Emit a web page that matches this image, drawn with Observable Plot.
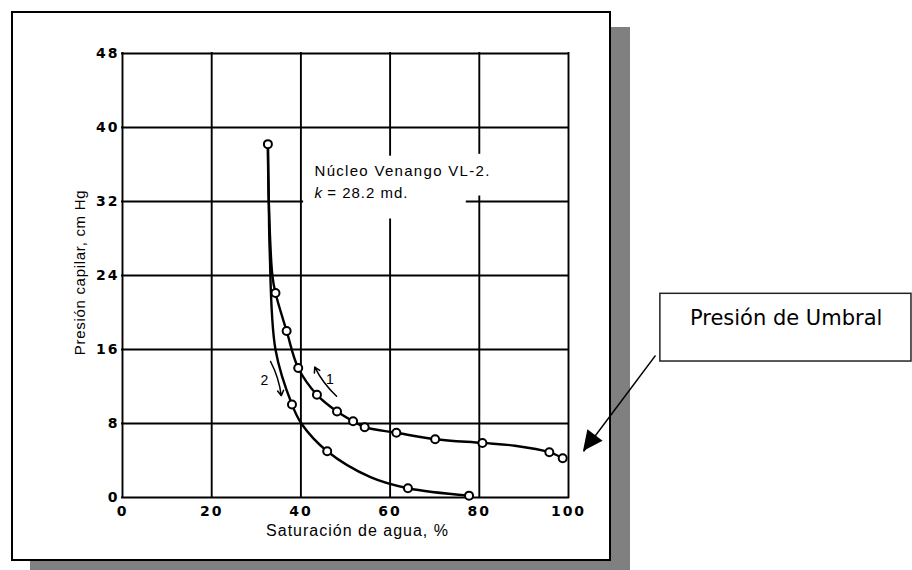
<!DOCTYPE html>
<html>
<head>
<meta charset="utf-8">
<script src="https://cdn.jsdelivr.net/npm/d3@7"></script>
<script src="https://cdn.jsdelivr.net/npm/@observablehq/plot@0.6"></script>
<style>
  html, body { margin: 0; padding: 0; background: #fff; overflow: hidden; }
  #wrap { position: relative; width: 912px; height: 570px; overflow: hidden; }
  #shadow { position: absolute; left: 30px; top: 27px; width: 600px; height: 560px; background: #808080; }
  #frame { position: absolute; left: 11px; top: 11px; width: 600px; height: 550px; box-sizing: border-box; border: 2px solid #000; background: #fff; }
  #chart { position: absolute; left: 0; top: 0; }
</style>
</head>
<body>
<div id="wrap">
  <div id="shadow"></div>
  <div id="frame"></div>
  <div id="chart"></div>
</div>
<script>
// ---- data ----
const xTicks = [0, 20, 40, 60, 80, 100];
const xTickLabels = ["0", "20", "40", "60", "80", "100"];
const yTicks = [0, 8, 16, 24, 32, 40, 48];
const xLabel = "Saturación de agua, %";
const yLabel = "Presión capilar, cm Hg";

// curve 1 (drainage) : water saturation %, capillary pressure cm Hg, marker flag
const curve1Sw = [32.6, 32.8, 33.6, 34.3, 36.8, 39.4, 43.6, 48.1, 51.7, 54.3, 61.4, 70.1, 80.7, 88.0, 95.7, 98.7];
const curve1Pc = [38.2, 32.0, 24.0, 22.1, 18.0, 14.0, 11.1, 9.3, 8.25, 7.6, 7.0, 6.3, 5.9, 5.6, 4.9, 4.25];
const curve1Pt = [1, 0, 0, 1, 1, 1, 1, 1, 1, 1, 1, 1, 1, 0, 1, 1];

// curve 2 (imbibition)
const curve2Sw = [32.6, 32.8, 33.0, 34.3, 38.0, 40.1, 45.9, 55.6, 64.0, 77.7];
const curve2Pc = [38.2, 32.0, 26.7, 16.0, 10.05, 8.0, 5.0, 2.2, 1.0, 0.2];
const curve2Pt = [0, 0, 0, 0, 1, 0, 1, 0, 1, 1];

// gaps in the printed grid (around the annotation text)
const gridGapAxis = ["y", "x", "x"];
const gridGapValue = [32, 60, 80];
const gridGapFrom = [40.4, 30.0, 32.5];
const gridGapTo = [77.3, 37.0, 37.2];

// direction arrows and their labels
const dirLabels = ["1", "2"];
const dirLabelX = [46.5, 31.8];
const dirLabelY = [12.8, 12.7];
const dirX1 = [48.0, 33.2], dirY1 = [10.95, 14.7];
const dirX2 = [43.1, 35.6], dirY2 = [14.1, 11.0];

// core annotation
const coreLine1 = "Núcleo Venango VL-2.";
const coreK = "k";
const coreLine2 = "= 28.2 md.";
const coreX = [43.05, 45.9];
const coreY = [34.73, 32.43];

// callout
const calloutText = "Presión de Umbral";
const calloutBox = {x1: 120.6, x2: 176.9, y1: 14.7, y2: 22.02};
const calloutTextPos = {x: 148.8, y: 18.7};
const calloutTail = {x: 119.5, y: 15.35};
const calloutTip = {x: 103.36, y: 4.97};

// ---- derived tables ----
const c1 = curve1Sw.map((x, i) => ({x, y: curve1Pc[i], pt: curve1Pt[i]}));
const c2 = curve2Sw.map((x, i) => ({x, y: curve2Pc[i], pt: curve2Pt[i]}));
const markers = [...c1, ...c2].filter(d => d.pt);

function segments(axis, value, lo, hi) {
  const gaps = gridGapAxis.map((a, i) => ({a, v: gridGapValue[i], f: gridGapFrom[i], t: gridGapTo[i]}))
    .filter(g => g.a === axis && g.v === value).sort((a, b) => a.f - b.f);
  const out = [];
  let s = lo;
  for (const g of gaps) { out.push({v: value, a: s, b: g.f}); s = g.t; }
  out.push({v: value, a: s, b: hi});
  return out;
}
const xGrid = xTicks.flatMap(v => segments("x", v, 0, 48));
const yGrid = yTicks.flatMap(v => segments("y", v, 0, 100));

const dirs = dirX1.map((x1, i) => ({x1, y1: dirY1[i], x2: dirX2[i], y2: dirY2[i]}));

const plot = Plot.plot({
  width: 912,
  height: 570,
  marginLeft: 122,
  marginRight: 344,
  marginTop: 53,
  marginBottom: 73,
  x: {domain: [0, 100], axis: null},
  y: {domain: [0, 48], axis: null},
  style: {background: "transparent", fontFamily: "'Liberation Sans', Arial, sans-serif", color: "#000", overflow: "visible"},
  marks: [
    Plot.ruleX(xGrid, {x: "v", y1: "a", y2: "b", stroke: "#000", strokeWidth: 1.9, strokeLinecap: "square"}),
    Plot.ruleY(yGrid, {y: "v", x1: "a", x2: "b", stroke: "#000", strokeWidth: 1.9, strokeLinecap: "square"}),
    Plot.text(xTicks, {x: d => d, text: (d, i) => xTickLabels[i], frameAnchor: "bottom", lineAnchor: "bottom", dy: 18,
      fontFamily: "DejaVu Sans", fontWeight: "bold", fontSize: 14, fill: "#000"}),
    Plot.text(yTicks, {y: d => d, text: d => String(d), frameAnchor: "left", textAnchor: "end", lineAnchor: "middle", dx: -3,
      fontFamily: "DejaVu Sans", fontWeight: "bold", fontSize: 14, fill: "#000"}),
    Plot.text([xLabel], {text: d => d, frameAnchor: "bottom", textAnchor: "middle", lineAnchor: "bottom", dx: 12, dy: 38, fontSize: 16, fill: "#000"}),
    Plot.text([yLabel], {text: d => d, frameAnchor: "left", textAnchor: "middle", lineAnchor: "bottom", rotate: -90, dx: -37.5, dy: -3, fontSize: 15, fill: "#000"}),
    Plot.line(c2, {x: "x", y: "y", curve: "catmull-rom", stroke: "#000", strokeWidth: 2.4}),
    Plot.line(c1, {x: "x", y: "y", curve: "catmull-rom", stroke: "#000", strokeWidth: 2.4}),
    Plot.dot(markers, {x: "x", y: "y", r: 4, fill: "#fff", stroke: "#000", strokeWidth: 2}),
    Plot.arrow(dirs, {x1: "x1", y1: "y1", x2: "x2", y2: "y2", bend: 10, stroke: "#000", strokeWidth: 1.5, headLength: 6}),
    Plot.text(dirLabels, {x: (d, i) => dirLabelX[i], y: (d, i) => dirLabelY[i], text: d => d, fontSize: 14, lineAnchor: "middle", fill: "#000"}),
    Plot.text([coreLine1], {x: coreX[0], y: coreY[0], text: d => d, textAnchor: "start", lineAnchor: "bottom", fontSize: 15, fill: "#000"}),
    Plot.text([coreK], {x: coreX[0], y: coreY[1], text: d => d, textAnchor: "start", lineAnchor: "bottom", fontSize: 15, fontStyle: "italic", fill: "#000"}),
    Plot.text([coreLine2], {x: coreX[1], y: coreY[1], text: d => d, textAnchor: "start", lineAnchor: "bottom", fontSize: 15, fill: "#000"}),
    Plot.rect([calloutBox], {x1: "x1", x2: "x2", y1: "y1", y2: "y2", fill: "#fff", stroke: "#222", strokeWidth: 1.5}),
    Plot.text([calloutText], {x: calloutTextPos.x, y: calloutTextPos.y, text: d => d, fontFamily: "DejaVu Sans", fontSize: 21, lineAnchor: "bottom", fill: "#000"}),
    Plot.link([{a: calloutTail, b: calloutTip}], {x1: d => d.a.x, y1: d => d.a.y, x2: d => d.b.x, y2: d => d.b.y, stroke: "#000", strokeWidth: 1.4})
  ]
});

document.getElementById("chart").appendChild(plot);

// letter spacing to imitate the wide lettering of the scanned figure
const tickStrings = new Set([...xTickLabels, ...yTicks.map(String)]);
const spacing = new Map([[xLabel, "1px"], [yLabel, "0.7px"], [coreLine1, "1.3px"], [coreLine2, "1px"]]);
d3.select(plot).selectAll("text").each(function () {
  const t = this.textContent;
  if (spacing.has(t)) this.style.letterSpacing = spacing.get(t);
  else if (tickStrings.has(t) && this.getAttribute("font-weight") !== null || tickStrings.has(t) && this.closest("g[font-weight='bold']")) this.style.letterSpacing = "2px";
});

// filled arrowhead for the callout, positioned through the plot's own scales
const sx = plot.scale("x"), sy = plot.scale("y");
const tx = sx.apply(calloutTip.x), ty = sy.apply(calloutTip.y);
const ax = sx.apply(calloutTail.x), ay = sy.apply(calloutTail.y);
const len = Math.hypot(ax - tx, ay - ty);
const ux = (ax - tx) / len, uy = (ay - ty) / len;
const headL = 20, headW = 9.5;
const bx = tx + ux * headL, by = ty + uy * headL;
d3.select(plot).append("path")
  .attr("d", `M${tx},${ty}L${bx - uy * headW},${by + ux * headW}L${bx + uy * headW},${by - ux * headW}Z`)
  .attr("fill", "#000");
</script>
</body>
</html>
